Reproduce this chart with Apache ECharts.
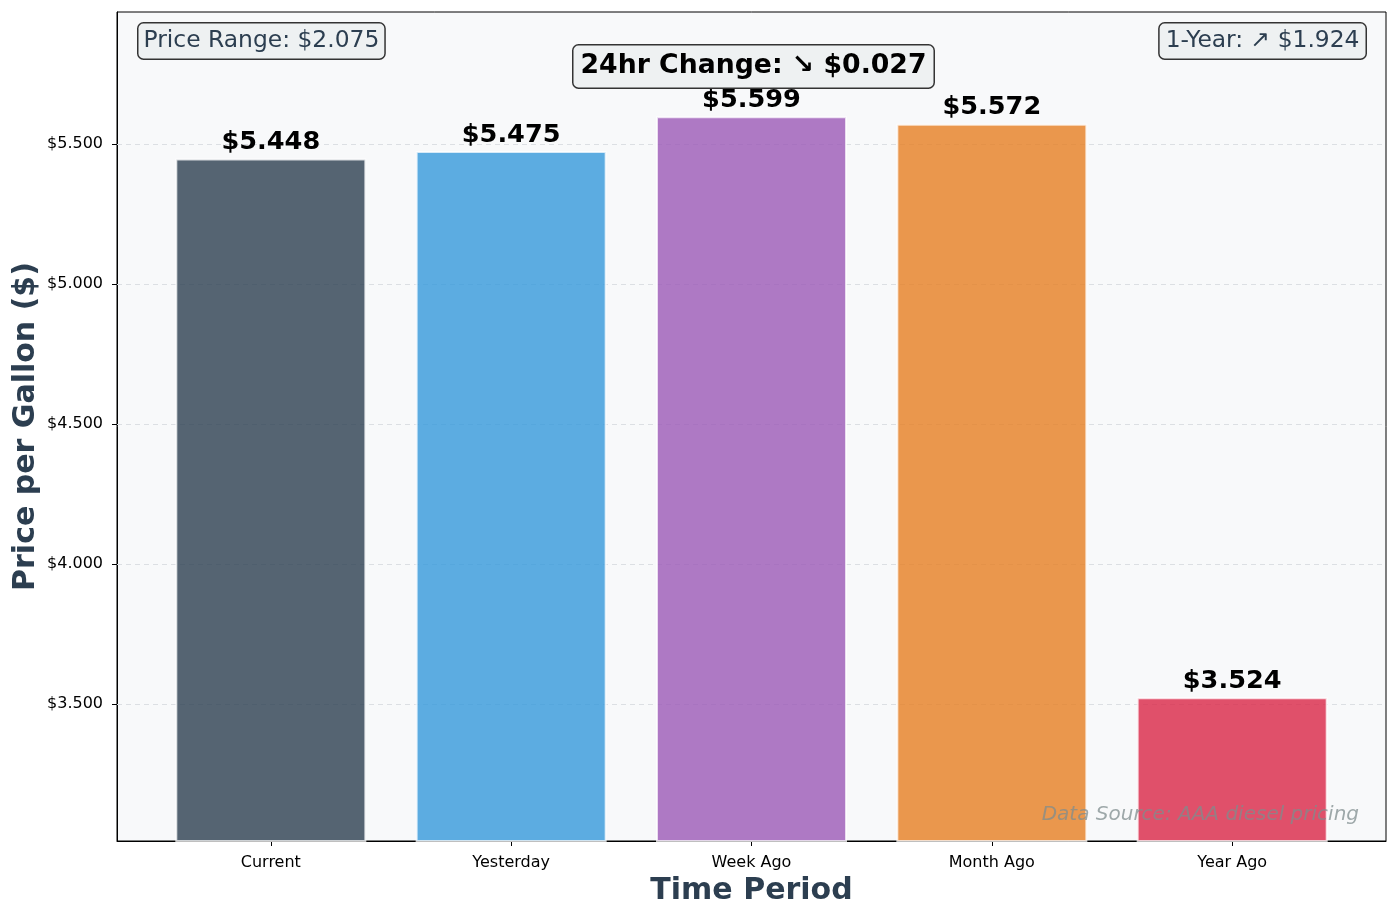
<!DOCTYPE html>
<html>
<head>
<meta charset="utf-8">
<script src="https://cdn.jsdelivr.net/npm/echarts@6/dist/echarts.min.js"></script>
<style>
html,body{margin:0;padding:0;background:#fff;}
#chart{width:1397px;height:918px;}
</style>
</head>
<body>
<div id="chart"></div>
<script>
// ---- data ----
const categories = ['Current', 'Yesterday', 'Week Ago', 'Month Ago', 'Year Ago'];
const prices = [5.448, 5.475, 5.599, 5.572, 3.524];
const yTicks = [3.5, 4.0, 4.5, 5.0, 5.5];
const yMin = 3.011;
const yMax = 5.971;
const sourceNote = 'Data Source: AAA diesel pricing';

// ---- styles ----
const barColors = ['#2c3e50', '#3498db', '#9b59b6', '#e67e22', '#d92646'];
const FONT = 'DejaVu Sans';

function withAlpha(hex, a) {
  const n = parseInt(hex.slice(1), 16);
  return 'rgba(' + ((n >> 16) & 255) + ',' + ((n >> 8) & 255) + ',' + (n & 255) + ',' + a + ')';
}

const current = prices[0], yesterday = prices[1], yearAgo = prices[4];
const range = Math.max(...prices) - Math.min(...prices);
const d24 = current - yesterday;
const d1y = current - yearAgo;
const arrow = v => (v >= 0 ? '\u2197' : '\u2198');

const chart = echarts.init(document.getElementById('chart'), null, {renderer: 'canvas'});

const option = {
  backgroundColor: '#ffffff',
  animation: false,
  grid: {
    left: 117, right: 11, top: 12, bottom: 77,
    containLabel: false,
    outerBoundsMode: 'none',
    show: true, backgroundColor: '#f8f9fa', borderColor: '#000', borderWidth: 1
  },
  xAxis: {
    type: 'value',
    min: -0.64, max: categories.length - 1 + 0.64,
    name: 'Time Period',
    nameLocation: 'middle',
    nameGap: 35,
    nameMoveOverlap: false,
    nameTextStyle: {fontFamily: FONT, fontSize: 30, fontWeight: 'bold', color: '#2c3e50'},
    axisLine: {show: true, onZero: false, lineStyle: {color: '#000', width: 1}},
    axisTick: {show: true, inside: false, length: 5, lineStyle: {color: '#000'},
      customValues: categories.map((c, i) => i)},
    axisLabel: {show: true, margin: 14, fontFamily: FONT, fontSize: 16, color: '#000',
      customValues: categories.map((c, i) => i),
      formatter: v => categories[Math.round(v)] || ''},
    splitLine: {show: false}
  },
  yAxis: {
    type: 'value',
    min: yMin, max: yMax,
    name: 'Price per Gallon ($)',
    nameLocation: 'middle',
    nameRotate: 90,
    nameGap: 76,
    nameMoveOverlap: false,
    nameTextStyle: {fontFamily: FONT, fontSize: 30, fontWeight: 'bold', color: '#2c3e50'},
    axisLine: {show: true, onZero: false, lineStyle: {color: '#000', width: 1}},
    axisTick: {show: true, inside: false, length: 5, lineStyle: {color: '#000'}, customValues: yTicks},
    axisLabel: {show: true, margin: 14, fontFamily: FONT, fontSize: 16, color: '#000',
      customValues: yTicks, formatter: v => '$' + Number(v).toFixed(3)},
    splitLine: {show: false}
  },
  series: [
    {
      type: 'line',
      data: [],
      z: 1,
      silent: true,
      markLine: {
        z: 1,
        silent: true,
        symbol: 'none',
        label: {show: false},
        lineStyle: {color: '#dcdfe3', type: [5, 4], width: 1, opacity: 1},
        data: yTicks.map(v => ({yAxis: v}))
      }
    },
    {
      type: 'bar',
      z: 3,
      barWidth: 191,
      data: prices.map((v, i) => ({
        value: [i, v],
        itemStyle: {color: withAlpha(barColors[i], 0.8), borderColor: 'rgba(255,255,255,0.75)', borderWidth: 2}
      })),
      label: {
        show: true,
        position: 'top',
        distance: 3,
        fontFamily: FONT,
        fontSize: 25.6,
        fontWeight: 'bold',
        color: '#000',
        formatter: p => '$' + p.value[1].toFixed(3)
      }
    }
  ],
  graphic: [
    {
      type: 'text', left: 137, top: 22, z: 100,
      style: {
        text: 'Price Range: $' + range.toFixed(3),
        font: '23.4px "DejaVu Sans"', fill: '#2c3e50',
        backgroundColor: '#eef1f2', borderColor: '#333', borderWidth: 1.5, borderRadius: 5,
        padding: [5, 5], lineHeight: 25
      }
    },
    {
      type: 'text', right: 30, top: 22, z: 100,
      style: {
        text: '1-Year: ' + arrow(d1y) + ' $' + Math.abs(d1y).toFixed(3),
        font: '23.4px "DejaVu Sans"', fill: '#2c3e50',
        backgroundColor: '#eef1f2', borderColor: '#333', borderWidth: 1.5, borderRadius: 5,
        padding: [5, 6], lineHeight: 25
      }
    },
    {
      type: 'text', left: 572, top: 44, z: 100,
      style: {
        text: '24hr Change: ' + arrow(d24) + ' $' + Math.abs(d24).toFixed(3),
        font: 'bold 26.7px "DejaVu Sans"', fill: '#000',
        backgroundColor: '#eef1f2', borderColor: '#333', borderWidth: 1.5, borderRadius: 5,
        padding: [6, 7], lineHeight: 30
      }
    },
    {
      type: 'text', x: 1359, y: 815, z: 100,
      style: {
        text: sourceNote,
        font: 'italic 20px "DejaVu Sans"', fill: 'rgba(127,140,141,0.75)',
        textAlign: 'right', textVerticalAlign: 'middle'
      }
    }
  ]
};
chart.setOption(option);
</script>
</body>
</html>
